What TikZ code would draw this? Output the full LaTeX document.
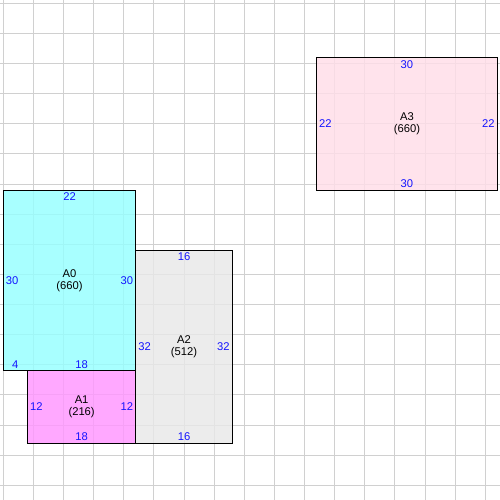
\documentclass[tikz,border=0pt]{standalone}
\usepackage{xcolor}
\usepackage{fontspec}
\setmainfont{Liberation Sans}
\usepackage{tikz}

\definecolor{gridgray}{RGB}{208,208,208}
\definecolor{roomA}{RGB}{150,255,255}
\definecolor{roomB}{RGB}{255,150,255}
\definecolor{roomC}{RGB}{232,232,232}
\definecolor{roomD}{RGB}{255,222,233}
\definecolor{sizeblue}{RGB}{20,20,255}

\tikzset{
  gridline/.style={gridgray, line width=0.9pt},
  room/.style={draw=black, line width=1pt, fill opacity=0.82},
  roomname/.style={font=\fontsize{10.6}{11.6}\selectfont, align=center, inner sep=0pt},
  len/.style={font=\fontsize{10.6}{11.6}\selectfont, text=sizeblue, inner sep=2.3pt}
}

\begin{document}
\begin{tikzpicture}[x=0.2cm, y=-0.2cm]
  \useasboundingbox (-0.55,-0.55) rectangle (82.45,82.45);
  \fill[white] (-0.55,-0.55) rectangle (82.45,82.45);
  % grid
  \foreach \i in {0,5,...,80} {
    \draw[gridline] (\i,-0.55) -- (\i,82.45);
    \draw[gridline] (-0.55,\i) -- (82.45,\i);
  }
  % rooms
  \draw[room, fill=roomA] (0,31) rectangle (22,61);
  \draw[room, fill=roomB] (4,61) rectangle (22,73);
  \draw[room, fill=roomC] (22,41) rectangle (38,73);
  \draw[room, fill=roomD] (52,9) rectangle (82,31);
  % names
  \node[roomname] (A0) at (11,46) {A0\\(660)};
  \node[roomname] (A1) at (13,67) {A1\\(216)};
  \node[roomname] (A2) at (30,57) {A2\\(512)};
  \node[roomname] (A3) at (67,20) {A3\\(660)};
  % side lengths
  \node[len, anchor=north] (A0t) at (11,31) {22};
  \node[len, anchor=west] (A0l) at (0,46) {30};
  \node[len, anchor=east] (A0r) at (22,46) {30};
  \node[len, anchor=south] (A0b1) at (2,61) {4};
  \node[len, anchor=south] (A0b2) at (13,61) {18};
  \node[len, anchor=west] (A1l) at (4,67) {12};
  \node[len, anchor=east] (A1r) at (22,67) {12};
  \node[len, anchor=south] (A1b) at (13,73) {18};
  \node[len, anchor=north] (A2t) at (30,41) {16};
  \node[len, anchor=west] (A2l) at (22,57) {32};
  \node[len, anchor=east] (A2r) at (38,57) {32};
  \node[len, anchor=south] (A2b) at (30,73) {16};
  \node[len, anchor=north] (A3t) at (67,9) {30};
  \node[len, anchor=west] (A3l) at (52,20) {22};
  \node[len, anchor=east] (A3r) at (82,20) {22};
  \node[len, anchor=south] (A3b) at (67,31) {30};
\end{tikzpicture}
\end{document}
